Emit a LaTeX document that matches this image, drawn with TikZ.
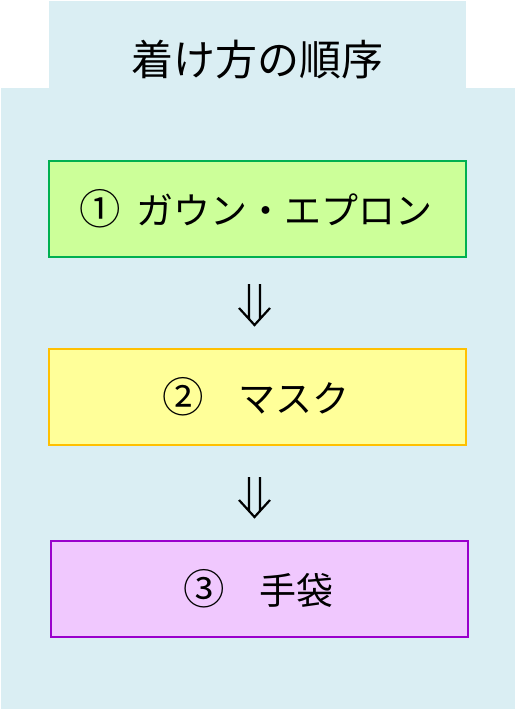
\documentclass[tikz,border=0pt]{standalone}
\usepackage{fontspec}
\usetikzlibrary{calc}
\setmainfont{Noto Sans CJK JP}
\definecolor{bgblue}{HTML}{DAEEF3}
\definecolor{gfill}{HTML}{CCFF99}
\definecolor{gline}{HTML}{00B050}
\definecolor{yfill}{HTML}{FFFF99}
\definecolor{yline}{HTML}{FFC000}
\definecolor{pfill}{HTML}{F0C8FE}
\definecolor{pline}{HTML}{9A00CC}
\newcommand{\cnum}[1]{\makebox[1em]{\scalebox{1.12}{#1}}}
\tikzset{
  stepbox/.style={draw, line width=2pt, minimum width=417pt, minimum height=96pt, inner sep=0pt, font=\fontsize{37}{40}\selectfont},
  dblarrow/.style={line width=2.2pt, line cap=butt, line join=miter,
    to path={
      ($(\tikztostart)+(-5.5,0)$) -- ($(\tikztotarget)+(-5.5,-6)$)
      ($(\tikztostart)+(5.5,0)$) -- ($(\tikztotarget)+(5.5,-6)$)
      ($(\tikztotarget)+(-15.5,-17)$) -- (\tikztotarget) -- ($(\tikztotarget)+(15.5,-17)$)
    }},
}
\begin{document}
\begin{tikzpicture}[x=1pt,y=-1pt]
\useasboundingbox (0,0) rectangle (515,709);
\fill[bgblue] (49,1) rectangle (466,89);
\fill[bgblue] (1,88) rectangle (515,709);
\node[font=\fontsize{42}{46}\selectfont] (title) at (257,60) {着け方の順序};
\node[stepbox, fill=gfill, draw=gline] (b1) at (257,208.5) {\cnum{①}\hspace{0.5em}ガウン・エプロン};
\node[stepbox, fill=yfill, draw=yline] (b2) at (257,396.5) {\cnum{②}　マスク};
\node[stepbox, fill=pfill, draw=pline] (b3) at (259.5,588.5) {\cnum{③}　手袋};
\coordinate (a1s) at ($(b1.south)+(-2.5,26.5)$);
\coordinate (a1e) at ($(b2.north)+(-2.5,-22.5)$);
\coordinate (a2s) at ($(b2.south)+(-2.5,31.5)$);
\coordinate (a2e) at ($(b3.north)+(-5,-22.5)$);
\draw[dblarrow] (a1s) to (a1e);
\draw[dblarrow] (a2s) to (a2e);
\end{tikzpicture}
\end{document}
